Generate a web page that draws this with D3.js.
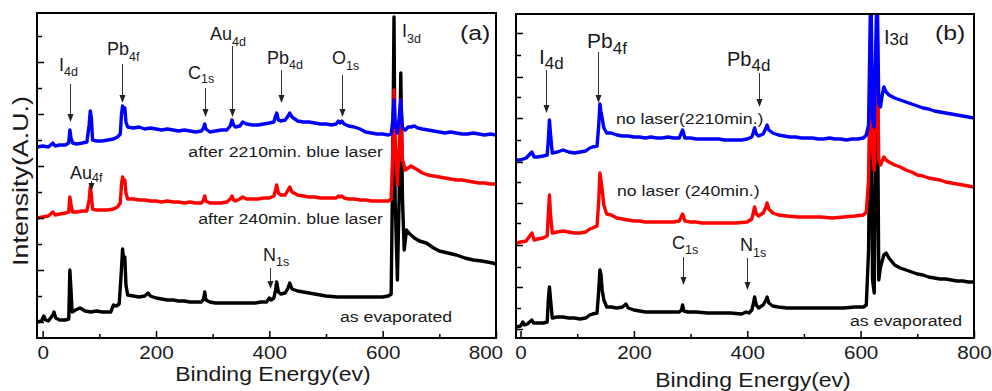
<!DOCTYPE html>
<html><head><meta charset="utf-8">
<script src="https://cdn.jsdelivr.net/npm/d3@7"></script>
<style>
html,body{margin:0;padding:0;background:#fff;}
svg{display:block;}
text{font-family:"Liberation Sans",Arial,Helvetica,sans-serif;fill:#1a1a1a;}
</style></head><body>
<svg id="chart" width="992" height="391"></svg>
<script>
// ---------- data (binding energy eV, intensity A.U.) ----------
const majorTicks = [0, 200, 400, 600, 800];
const minorTicks = [100, 300, 500, 700];
const tickLabels = ["0", "200", "400", "600", "800"];
const yTicksA = [16, 42, 68, 94, 120, 146, 172, 198, 224, 250, 276, 302];
const yTicksB = [9, 30, 51, 71, 93, 115, 135, 156, 176, 198, 220, 241, 261, 283, 305];

// panel (a)
const aBlack = [[-10,16],[-2,17],[2,22],[5,18],[10,17],[18,23],[20,26],[23,20],[30,18],[40,18],[46,19],[48,68],[50,48],[52,26],[58,28],[66,30],[75,27],[85,26],[95,27],[105,26],[115,26],[120,26],[125,33],[130,32],[135,34],[139,68],[141,89],[143,78],[145,81],[147,53],[150,43],[160,42],[170,41],[180,42],[186,45],[190,42],[200,40],[210,39],[220,38],[230,38],[240,37],[250,37],[260,36],[270,36],[280,36],[284,39],[286,46],[288,38],[295,36],[305,35],[315,35],[325,35],[335,35],[345,35],[355,35],[365,35],[375,35],[385,36],[395,36],[400,40],[403,38],[408,40],[411,48],[413,56],[416,46],[420,44],[428,45],[433,50],[436,55],[440,49],[450,47],[460,46],[470,45],[480,44],[490,43],[500,42],[520,41],[540,41],[560,41],[580,41],[600,41],[610,42],[615,44],[618,188],[620,321],[622,138],[626,58],[629,138],[632,265],[635,138],[638,88],[642,108],[648,104],[656,100],[665,97],[677,95],[690,90],[700,87],[715,85],[730,83],[745,80],[760,78],[775,77],[794,75],[800,74]];
const aRed = [[-10,120],[0,121],[10,122],[18,126],[22,123],[30,124],[40,125],[46,126],[48,141],[50,133],[53,126],[60,126],[70,127],[78,127],[82,138],[84,151],[86,143],[88,129],[95,128],[105,128],[115,128],[125,129],[132,131],[137,135],[139,153],[141,161],[143,155],[145,158],[147,145],[150,139],[160,139],[170,138],[180,138],[190,137],[200,137],[210,136],[220,137],[230,136],[240,136],[250,135],[260,136],[270,135],[280,135],[284,138],[286,142],[288,137],[295,135],[305,135],[315,135],[325,136],[331,139],[334,142],[337,138],[340,137],[348,139],[353,141],[360,139],[370,139],[380,139],[390,140],[400,140],[408,142],[411,148],[413,153],[416,145],[420,143],[428,143],[433,148],[436,151],[440,146],[450,143],[460,142],[470,141],[480,141],[490,140],[500,140],[510,140],[518,140],[522,142],[525,141],[528,142],[532,140],[540,139],[550,139],[560,138],[570,138],[580,137],[590,137],[600,137],[610,137],[615,139],[618,188],[620,248],[622,198],[626,153],[629,188],[632,238],[635,178],[640,168],[645,170],[650,172],[656,170],[662,168],[670,165],[680,163],[690,162],[700,161],[710,160],[720,159],[730,158],[740,158],[750,157],[760,156],[770,155],[780,155],[790,154],[800,154]];
const aBlue = [[-10,191],[0,192],[10,191],[18,195],[22,192],[30,193],[40,193],[46,195],[48,208],[50,200],[53,195],[60,194],[70,195],[78,196],[82,213],[84,227],[86,220],[88,198],[95,197],[105,197],[115,198],[125,199],[132,201],[137,204],[139,223],[141,232],[143,226],[145,230],[147,216],[150,211],[160,210],[170,211],[180,209],[190,210],[200,209],[210,208],[220,209],[230,208],[240,207],[250,208],[260,207],[270,206],[280,207],[284,210],[286,214],[288,209],[295,206],[305,207],[315,208],[325,208],[331,212],[334,218],[337,213],[340,211],[348,212],[353,216],[360,214],[370,213],[380,213],[390,214],[400,215],[408,216],[411,222],[413,225],[416,218],[420,217],[428,218],[433,222],[436,225],[440,221],[450,217],[460,216],[470,216],[480,215],[490,214],[500,214],[510,213],[518,214],[522,217],[525,215],[528,217],[532,214],[540,212],[550,211],[560,209],[570,206],[580,205],[590,204],[600,204],[610,203],[615,204],[618,218],[620,238],[622,213],[626,205],[629,220],[632,238],[635,210],[640,208],[645,211],[650,211],[656,212],[662,210],[670,209],[680,208],[690,207],[700,206],[710,205],[720,206],[730,205],[740,204],[750,204],[760,205],[770,204],[780,203],[790,204],[800,203]];

// panel (b)
const bBlack = [[-8,11],[0,12],[4,16],[7,13],[12,14],[20,18],[23,15],[30,15],[40,15],[47,16],[49,38],[51,51],[53,38],[56,20],[65,21],[75,21],[85,20],[95,20],[105,19],[115,20],[122,23],[127,24],[135,25],[138,48],[140,68],[142,63],[144,48],[147,38],[152,31],[160,31],[170,30],[180,31],[186,34],[190,30],[200,28],[210,27],[220,26],[230,26],[240,26],[250,26],[260,26],[270,26],[280,26],[284,28],[286,33],[288,27],[295,26],[310,26],[330,25],[350,25],[370,25],[390,24],[398,26],[403,25],[408,28],[411,35],[413,41],[416,33],[420,30],[428,33],[433,38],[435,41],[438,35],[445,32],[455,31],[470,30],[490,30],[510,30],[530,30],[550,30],[570,30],[590,31],[605,31],[610,33],[614,88],[618,308],[621,58],[624,45],[629,308],[632,58],[635,71],[641,83],[645,85],[650,80],[660,73],[670,70],[680,68],[690,66],[700,64],[710,63],[720,61],[730,60],[740,59],[750,59],[760,58],[770,57],[780,57],[790,56],[800,56]];
const bRed = [[-8,95],[0,96],[10,97],[20,105],[24,98],[30,99],[40,100],[47,102],[49,123],[51,143],[53,123],[56,105],[65,106],[75,107],[85,106],[95,105],[105,105],[115,106],[122,109],[127,110],[135,112],[138,138],[140,165],[142,158],[144,148],[147,133],[152,124],[160,123],[170,120],[180,119],[190,118],[200,117],[210,117],[220,116],[230,116],[240,116],[250,116],[260,116],[270,116],[280,117],[286,124],[290,117],[300,116],[310,116],[320,115],[340,115],[360,115],[380,115],[400,116],[408,119],[411,126],[413,131],[416,124],[420,122],[428,125],[433,131],[435,135],[438,129],[445,125],[455,123],[470,122],[490,121],[510,121],[530,121],[550,120],[570,121],[590,122],[605,123],[610,126],[614,158],[618,318],[621,188],[624,168],[629,318],[632,178],[635,173],[641,181],[645,178],[650,176],[660,173],[670,171],[680,168],[690,166],[700,163],[710,162],[720,160],[730,159],[740,158],[750,156],[760,155],[770,154],[780,153],[790,152],[800,151]];
const bBlue = [[-8,178],[0,178],[10,180],[20,186],[24,181],[30,181],[40,182],[47,183],[49,198],[51,218],[53,203],[56,185],[65,186],[75,188],[85,186],[95,185],[105,186],[115,187],[122,190],[127,191],[135,192],[138,213],[140,234],[142,226],[144,220],[147,210],[152,205],[160,205],[170,203],[180,202],[190,202],[200,201],[210,201],[220,200],[230,201],[240,200],[250,200],[260,201],[270,200],[280,200],[286,208],[290,200],[300,200],[310,199],[320,199],[330,199],[340,199],[350,199],[360,198],[370,198],[380,198],[390,198],[400,199],[408,201],[411,206],[413,210],[416,204],[420,202],[428,204],[433,210],[435,213],[438,208],[445,205],[455,203],[465,202],[475,201],[485,201],[495,200],[505,200],[515,200],[525,199],[535,199],[545,200],[555,199],[565,199],[575,198],[585,199],[595,199],[605,200],[610,203],[614,213],[618,360],[621,218],[624,211],[629,360],[632,235],[635,231],[638,243],[641,251],[645,246],[650,243],[660,240],[670,238],[680,236],[690,234],[700,232],[710,230],[720,229],[730,227],[740,226],[750,225],[760,224],[770,223],[780,222],[790,221],[800,220]];

// annotation labels (text) with the energy each arrow points at
const peaksA = [
  {main:"I", sub:"4d", e:48}, {main:"Pb", sub:"4f", e:140}, {main:"C", sub:"1s", e:286},
  {main:"Au", sub:"4d", e:334}, {main:"Pb", sub:"4d", e:420}, {main:"O", sub:"1s", e:528},
  {main:"I", sub:"3d", e:null}, {main:"Au", sub:"4f", e:85}, {main:"N", sub:"1s", e:401}
];
const peaksB = [
  {main:"I", sub:"4d", e:45}, {main:"Pb", sub:"4f", e:136}, {main:"Pb", sub:"4d", e:420},
  {main:"I", sub:"3d", e:null}, {main:"C", sub:"1s", e:286}, {main:"N", sub:"1s", e:399}
];
const seriesLabelsA = ["after 2210min. blue laser", "after 240min. blue laser", "as evaporated"];
const seriesLabelsB = ["no laser(2210min.)", "no laser (240min.)", "as evaporated"];
const panelNames = ["(a)", "(b)"];
const xTitle = "Binding Energy(ev)";
const yTitle = "Intensity(A.U.)";

// ---------- layout / style ----------
const SX = 1.18; // horizontal stretch of lettering in the original
const svg = d3.select("#chart");
const colors = {black:"#000000", red:"#ff0000", blue:"#0000ff"};

const layoutA = {x0:37, x1:496, y0:13, y1:338, dom:[-10, 800], yTicks:yTicksA,
  peaks:[
    {lx:59, ly:71, size:18, ss:12.5, dy:5, y1:84, y2:122},
    {lx:107, ly:55, size:18, ss:12.5, dy:6, y1:64, y2:103},
    {lx:188, ly:79, size:18, ss:12.5, dy:4, y1:88, y2:117},
    {lx:210, ly:40, size:18, ss:12.5, dy:6, y1:46, y2:117},
    {lx:267, ly:64, size:18, ss:12.5, dy:5, y1:70, y2:103},
    {lx:332, ly:64, size:18, ss:12.5, dy:6, y1:75, y2:117},
    {lx:402, ly:37, size:18, ss:12.5, dy:6},
    {lx:70, ly:179, size:18, ss:12.5, dy:3, y1:181, y2:191},
    {lx:263, ly:261, size:18, ss:12.5, dy:5, y1:268, y2:289}
  ],
  labels:[{x:383, y:157, anchor:"end"}, {x:383, y:224, anchor:"end"}, {x:340, y:322, anchor:"start"}],
  name:{x:460, y:40}, title:{x:273, y:381}, lastLabelShift:-9};

const layoutB = {x0:516, x1:974, y0:14, y1:338, dom:[-8, 800], yTicks:yTicksB,
  peaks:[
    {lx:539, ly:64, size:21, ss:17, dy:5, y1:70, y2:113},
    {lx:587, ly:48, size:21, ss:17, dy:6, y1:52, y2:103},
    {lx:727, ly:66, size:20, ss:17, dy:5, y1:73, y2:107},
    {lx:884, ly:44, size:20, ss:17, dy:1},
    {lx:672, ly:249, size:18, ss:12.5, dy:5, y1:257, y2:285},
    {lx:740, ly:251, size:18, ss:12.5, dy:6, y1:258, y2:290}
  ],
  labels:[{x:616, y:124, anchor:"start"}, {x:617, y:196, anchor:"start"}, {x:850, y:326, anchor:"start"}],
  name:{x:935, y:40}, title:{x:753, y:387}, lastLabelShift:0};

function stretchText(sel, x, y, anchor) {
  sel.attr("transform", `translate(${x},${y}) scale(${SX},1)`).attr("text-anchor", anchor || "start");
}

function drawPanel(L, series, peaks, seriesLabels, name, idx) {
  const x = d3.scaleLinear().domain(L.dom).range([L.x0, L.x1]);
  const y = d3.scaleLinear().domain([0, 325]).range([338, 13]);
  const g = svg.append("g");
  const clipId = "clip" + idx;
  svg.append("clipPath").attr("id", clipId).append("rect")
    .attr("x", L.x0).attr("y", L.y0).attr("width", L.x1 - L.x0).attr("height", L.y1 - L.y0);

  const line = d3.line().x(d => x(d[0])).y(d => y(d[1]));
  const traces = g.append("g").attr("clip-path", `url(#${clipId})`);
  series.forEach(s => {
    traces.append("path").datum(s.data)
      .attr("fill", "none").attr("stroke", s.color).attr("stroke-width", 3.4)
      .attr("stroke-linejoin", "round").attr("d", line);
  });

  // x axis: major ticks with labels, minor ticks, all pointing inward
  const axMaj = d3.axisBottom(x).tickValues(majorTicks).tickSizeInner(-7).tickSizeOuter(0)
    .tickPadding(9).tickFormat((d, i) => tickLabels[i]);
  const gx = g.append("g").attr("transform", `translate(0,${L.y1})`).call(axMaj);
  const axMin = d3.axisBottom(x).tickValues(minorTicks).tickSizeInner(-4).tickSizeOuter(0).tickFormat("");
  const gx2 = g.append("g").attr("transform", `translate(0,${L.y1})`).call(axMin);
  [gx, gx2].forEach(a => {
    a.select(".domain").remove();
    a.selectAll("line").attr("stroke", "#000").attr("stroke-width", 1.5);
  });
  gx.selectAll("text").attr("font-size", 17.5).attr("fill", "#1a1a1a")
    .attr("font-family", '"Liberation Sans",Arial,sans-serif')
    .attr("x", d => d === 800 ? L.lastLabelShift : 0)
    .attr("transform", `scale(${SX},1)`);

  // y axis ticks inward, no labels
  const ax = d3.axisLeft(y).tickValues(L.yTicks).tickSizeInner(-6).tickSizeOuter(0).tickFormat("");
  const gy = g.append("g").attr("transform", `translate(${L.x0},0)`).call(ax);
  gy.select(".domain").remove();
  gy.selectAll("line").attr("stroke", "#000").attr("stroke-width", 1.5)
    .attr("x2", (d, i) => i % 2 === 0 ? 7 : 5);

  // frame
  g.append("rect").attr("x", L.x0).attr("y", L.y0).attr("width", L.x1 - L.x0).attr("height", L.y1 - L.y0)
    .attr("fill", "none").attr("stroke", "#000").attr("stroke-width", 2);

  // peak annotations
  peaks.forEach((p, i) => {
    const P = L.peaks[i];
    const t = g.append("text").attr("x", P.lx).attr("y", P.ly).attr("font-size", P.size);
    t.append("tspan").text(p.main);
    t.append("tspan").attr("font-size", P.ss).attr("dy", P.dy).text(p.sub);
    if (p.e !== null) {
      const ax0 = Math.round(x(p.e)) + 0.5;
      g.append("line").attr("x1", ax0).attr("x2", ax0).attr("y1", P.y1).attr("y2", P.y2 - 6)
        .attr("stroke", "#333").attr("stroke-width", 1);
      g.append("path").attr("d", `M${ax0 - 3},${P.y2 - 8}L${ax0 + 3},${P.y2 - 8}L${ax0},${P.y2}Z`)
        .attr("fill", "#222");
    }
  });

  // series labels
  seriesLabels.forEach((s, i) => {
    const P = L.labels[i];
    const t = g.append("text").attr("font-size", 15).text(s);
    stretchText(t, P.x, P.y, P.anchor);
  });

  // panel name
  stretchText(g.append("text").attr("font-size", 21).text(name), L.name.x, L.name.y, "start");
  // x title
  stretchText(g.append("text").attr("font-size", 19.5).text(xTitle), L.title.x, L.title.y, "middle");
}

drawPanel(layoutA, [
  {data: aBlack, color: colors.black}, {data: aRed, color: colors.red}, {data: aBlue, color: colors.blue}
], peaksA, seriesLabelsA, panelNames[0], 0);
drawPanel(layoutB, [
  {data: bBlack, color: colors.black}, {data: bRed, color: colors.red}, {data: bBlue, color: colors.blue}
], peaksB, seriesLabelsB, panelNames[1], 1);

// y title
svg.append("text").attr("font-size", 22).attr("text-anchor", "middle")
  .attr("transform", "translate(28,181) rotate(-90) scale(1.22,1)").text(yTitle);
</script>
</body></html>
